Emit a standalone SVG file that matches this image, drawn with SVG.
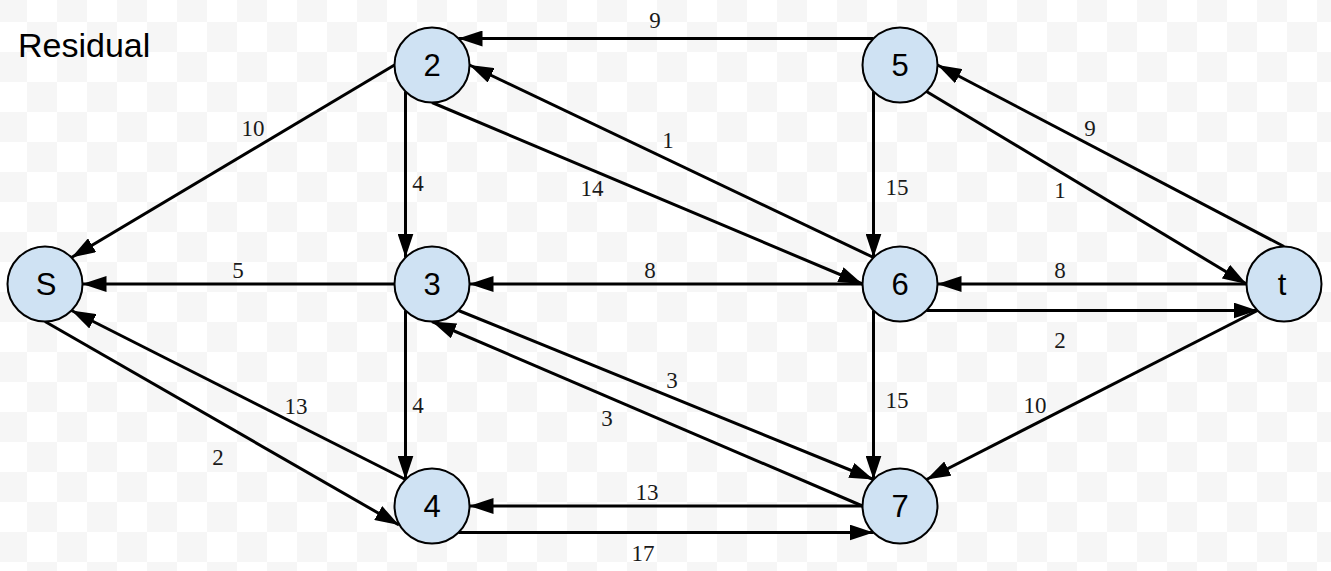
<svg xmlns="http://www.w3.org/2000/svg" width="1331" height="571" viewBox="0 0 1331 571">
<defs>
<pattern id="grid" x="-3" y="-8" width="60" height="60" patternUnits="userSpaceOnUse">
<rect x="0" y="0" width="60" height="60" fill="#ffffff"/>
<rect x="0" y="0" width="30" height="30" fill="#f6f6f6"/>
<rect x="30" y="30" width="30" height="30" fill="#f6f6f6"/>
</pattern>
<marker id="arr" markerUnits="userSpaceOnUse" markerWidth="24" markerHeight="16" refX="24" refY="8" orient="auto">
<path d="M0,0 L24,8 L0,16 z" fill="#000"/>
</marker>
</defs>
<style>
.e{stroke:#000;stroke-width:3;fill:none;marker-end:url(#arr)}
.el{font-family:"Liberation Serif","Times New Roman",serif;font-size:23px;fill:#1a1a1a;text-anchor:middle}
.n circle{fill:#cfe2f3;stroke:#000;stroke-width:2}
.n text{font-family:"Liberation Sans",Arial,sans-serif;font-size:31px;fill:#000;text-anchor:middle}
.title{font-family:"Liberation Sans",Arial,sans-serif;font-size:34px;fill:#000}
</style>
<rect x="0" y="0" width="1331" height="571" fill="url(#grid)"/>
<text class="title" x="18" y="57">Residual</text>
<g id="connectors">
<path class="e" d="M873.5,38.5 L458.5,38.5"/>
<path class="e" d="M394.5,65 L71.5,257.5"/>
<path class="e" d="M405.5,91.5 L405.5,257.5"/>
<path class="e" d="M432,102.5 L862.5,284"/>
<path class="e" d="M873.5,257.5 L469.5,65"/>
<path class="e" d="M873.5,91.5 L873.5,257.5"/>
<path class="e" d="M926.5,91.5 L1246.5,284"/>
<path class="e" d="M1284,246.5 L937.5,65"/>
<path class="e" d="M1246.5,284 L937.5,284"/>
<path class="e" d="M926.5,310.5 L1257.5,310.5"/>
<path class="e" d="M1257.5,310.5 L926.5,479.5"/>
<path class="e" d="M873.5,310.5 L873.5,479.5"/>
<path class="e" d="M394.5,284 L82.5,284"/>
<path class="e" d="M862.5,284 L469.5,284"/>
<path class="e" d="M405.5,310.5 L405.5,479.5"/>
<path class="e" d="M458.5,310.5 L873.5,479.5"/>
<path class="e" d="M862.5,506 L432,321.5"/>
<path class="e" d="M405.5,479.5 L71.5,310.5"/>
<path class="e" d="M45,321.5 L399,525"/>
<path class="e" d="M862.5,506 L469.5,506"/>
<path class="e" d="M458.5,532.5 L873.5,532.5"/>
<text class="el" x="655" y="28">9</text>
<text class="el" x="253" y="136">10</text>
<text class="el" x="418" y="191">4</text>
<text class="el" x="592" y="196">14</text>
<text class="el" x="668" y="148">1</text>
<text class="el" x="897" y="195">15</text>
<text class="el" x="1060" y="198">1</text>
<text class="el" x="1090" y="136">9</text>
<text class="el" x="1060" y="278">8</text>
<text class="el" x="1060" y="348">2</text>
<text class="el" x="1035" y="413">10</text>
<text class="el" x="897" y="408">15</text>
<text class="el" x="238" y="278">5</text>
<text class="el" x="650" y="278">8</text>
<text class="el" x="418" y="413">4</text>
<text class="el" x="672" y="388">3</text>
<text class="el" x="607" y="426">3</text>
<text class="el" x="296" y="414">13</text>
<text class="el" x="218" y="465">2</text>
<text class="el" x="647" y="500">13</text>
<text class="el" x="643" y="561">17</text>
</g>
<g id="node-S" class="n"><circle cx="45" cy="284" r="37.5"/><text x="46" y="295">S</text></g>
<g id="node-2" class="n"><circle cx="432" cy="65" r="37.5"/><text x="432" y="76">2</text></g>
<g id="node-3" class="n"><circle cx="432" cy="284" r="37.5"/><text x="432" y="295">3</text></g>
<g id="node-4" class="n"><circle cx="432" cy="506" r="37.5"/><text x="432" y="517">4</text></g>
<g id="node-5" class="n"><circle cx="900" cy="65" r="37.5"/><text x="900" y="76">5</text></g>
<g id="node-6" class="n"><circle cx="900" cy="284" r="37.5"/><text x="900" y="295">6</text></g>
<g id="node-7" class="n"><circle cx="900" cy="506" r="37.5"/><text x="900" y="517">7</text></g>
<g id="node-t" class="n"><circle cx="1284" cy="284" r="37.5"/><text x="1282" y="295">t</text></g>
</svg>
